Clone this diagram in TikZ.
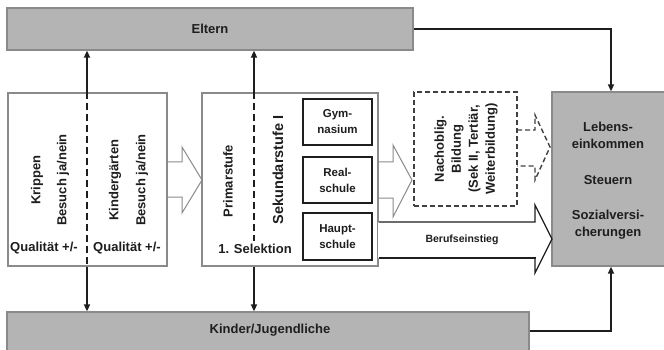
\documentclass[tikz,border=0pt]{standalone}
\usepackage{fontspec}
\setmainfont{Liberation Sans}
\usetikzlibrary{arrows.meta,calc}
\definecolor{boxgray}{HTML}{B4B4B4}
\definecolor{edgegray}{HTML}{8A8A8A}
\definecolor{ink}{HTML}{1E1E1E}
\begin{document}
\begin{tikzpicture}[x=1pt,y=-1pt,
  bigtxt/.style={font=\fontsize{13}{17}\selectfont\bfseries, text=ink},
  smalltxt/.style={font=\fontsize{11.5}{16}\selectfont\bfseries, text=ink},
  graybox/.style={draw=edgegray, line width=1.3pt, fill=boxgray, inner sep=0pt},
  whitebox/.style={draw=edgegray, line width=1.3pt, fill=white, inner sep=0pt},
  schoolbox/.style={draw=ink, line width=1.8pt, fill=white, inner sep=0pt, align=center, smalltxt},
  conn/.style={draw=ink, line width=1.6pt, -{Triangle[length=7pt,width=6pt]}},
  dashline/.style={draw=ink, line width=1.8pt, dash pattern=on 7pt off 4pt},
  blockarrow/.style={draw=edgegray, line width=1pt, fill=white, line join=miter},
]
\useasboundingbox (0,0) rectangle (664,350);
% main boxes
\node[graybox, minimum width=406pt, minimum height=42pt, bigtxt] (eltern) at (210,29) {Eltern};
\node[graybox, minimum width=522pt, minimum height=40pt] (kinder) at (268,332) {};
\node[bigtxt] (kindertxt) at (270,330) {Kinder/Jugendliche};
\node[graybox, minimum width=116pt, minimum height=174pt] (eink) at (610,179) {};
% block arrows (behind white boxes)
\draw[blockarrow] (160,162) -- (182,162) -- (182,147) -- (202,180) -- (182,213) -- (182,197) -- (160,197);
\draw[blockarrow] (370,162) -- (393,162) -- (393,145) -- (412,180) -- (393,217) -- (393,198) -- (370,198);
\node[whitebox, minimum width=159pt, minimum height=173pt] (kita) at (87.5,179.5) {};
\node[whitebox, minimum width=176pt, minimum height=173pt] (schule) at (290,179.5) {};
% Berufseinstieg arrow
\fill[white] (378,222) -- (535,222) -- (535,205) -- (552,239) -- (535,273) -- (535,258) -- (378,258) -- cycle;
\draw[ink, line width=1.3pt, line join=miter] (schule.east |- 0,222) -- (535,222) -- (535,205) -- (552,239) -- (535,273) -- (535,258);
\draw[ink, line width=2.4pt] (schule.east |- 0,258) -- (535.5,258);
\node[smalltxt, font=\fontsize{10.5}{12}\selectfont\bfseries] (beruf) at (462,240) {Berufseinstieg};
% dashed arrow
\draw[ink!85, line width=1.4pt, dash pattern=on 5pt off 3pt] (517,130) -- (535,130) -- (535,115) -- (550,147) -- (535,180) -- (535,166) -- (517,166);
% Nachoblig box
\node[draw=ink!85, line width=1.5pt, dash pattern=on 5pt off 3pt, fill=white, minimum width=103pt, minimum height=114pt] (nach) at (465.5,149) {};
% school type boxes
\node[schoolbox, minimum width=69pt, minimum height=46pt] (gym) at (337.5,122) {Gym-\\nasium};
\node[schoolbox, minimum width=69pt, minimum height=46pt] (real) at (337.5,180) {Real-\\schule};
\node[schoolbox, minimum width=69pt, minimum height=47pt] (haupt) at (337.5,236.5) {Haupt-\\schule};
% rotated labels
\node[bigtxt, rotate=90] (krippen) at (37,180) {Krippen};
\node[bigtxt, rotate=90] (bes1) at (63,180) {Besuch ja/nein};
\node[bigtxt, rotate=90] (kiga) at (115,180) {Kindergärten};
\node[bigtxt, rotate=90] (bes2) at (142,180) {Besuch ja/nein};
\node[bigtxt] (qual1) at (44,248) {Qualität +/-};
\node[bigtxt] (qual2) at (127,248) {Qualität +/-};
\node[bigtxt, rotate=90] (prim) at (228,181) {Primarstufe};
\node[bigtxt, rotate=90, font=\fontsize{14.5}{17}\selectfont\bfseries] (sek) at (278,170) {Sekundarstufe I};
\node[bigtxt] (sel) at (255,249) {1. Selektion};
\node[bigtxt, rotate=90, align=center] (nachtxt) at (466,149) {Nachoblig.\\Bildung\\(Sek II, Tertiär,\\Weiterbildung)};
\node[bigtxt, align=center] (eink1) at (608,135) {Lebens-\\einkommen};
\node[bigtxt] (eink2) at (608,180) {Steuern};
\node[bigtxt, align=center] (eink3) at (608,225) {Sozialversi-\\cherungen};
% vertical connectors
\coordinate (xa) at (87,0);
\coordinate (xb) at (254,0);
\coordinate (xr) at (611,0);
\draw[conn] (kita.north -| xa) -- (eltern.south -| xa);
\draw[dashline] (kita.north -| xa) -- (kita.south -| xa);
\draw[conn] (kita.south -| xa) -- (kinder.north -| xa);
\draw[conn] (schule.north -| xb) -- (eltern.south -| xb);
\draw[dashline] (schule.north -| xb) -- (sel.north -| xb);
\draw[conn] (schule.south -| xb) -- (kinder.north -| xb);
% to income box
\draw[conn] (eltern.east) -- (eltern.east -| xr) -- (eink.north -| xr);
\draw[conn] (kinder.east |- 0,331) -- (xr |- 0,331) -- (eink.south -| xr);
\end{tikzpicture}
\end{document}
